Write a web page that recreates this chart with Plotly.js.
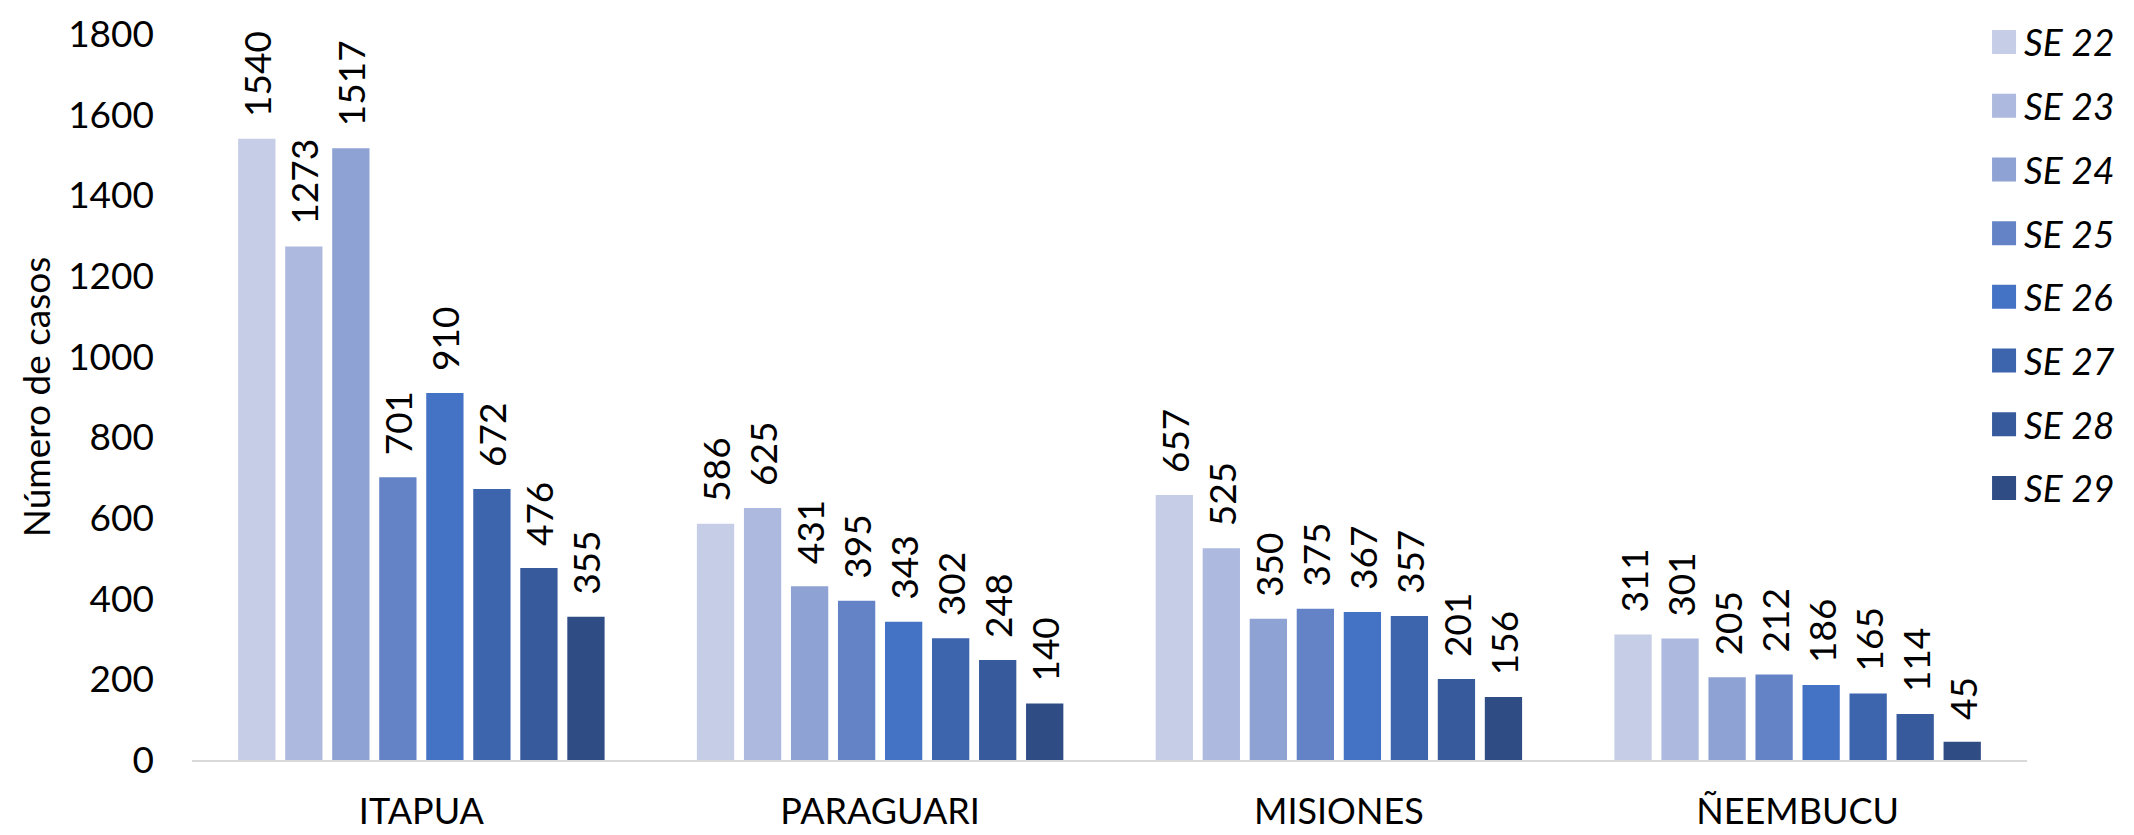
<!DOCTYPE html>
<html>
<head>
<meta charset="utf-8">
<script src="https://cdn.plot.ly/plotly-3.0.1.min.js"></script>
<style>html,body{margin:0;padding:0;background:#fff;}#chart{width:2134px;height:835px;}</style>
</head>
<body>
<div id="chart"></div>
<script>
const categories = ["ITAPUA", "PARAGUARI", "MISIONES", "ÑEEMBUCU"];
const seriesNames = ["SE 22", "SE 23", "SE 24", "SE 25", "SE 26", "SE 27", "SE 28", "SE 29"];
const se22 = [1540, 586, 657, 311];
const se23 = [1273, 625, 525, 301];
const se24 = [1517, 431, 350, 205];
const se25 = [701, 395, 375, 212];
const se26 = [910, 343, 367, 186];
const se27 = [672, 302, 357, 165];
const se28 = [476, 248, 201, 114];
const se29 = [355, 140, 156, 45];
const seriesValues = [se22, se23, se24, se25, se26, se27, se28, se29];
const colors = ["#C5CDE7", "#ADB9DE", "#8FA2D4", "#6483C7", "#4472C4", "#3D65AE", "#365A9C", "#2F4C85"];
const yTicks = [0, 200, 400, 600, 800, 1000, 1200, 1400, 1600, 1800];

const traces = seriesNames.map((name, i) => ({
  type: "bar",
  name: name,
  x: categories,
  y: seriesValues[i],
  text: seriesValues[i].map(v => "\u00a0\u00a0" + v),
  textposition: "outside",
  textangle: -90,
  cliponaxis: false,
  constraintext: "none",
  textfont: {family: "Lato, sans-serif", size: 37, color: "#000"},
  marker: {color: colors[i]},
  legendgroup: name,
  hoverinfo: "x+y+name"
}));

const layout = {
  width: 2134,
  height: 835,
  margin: {l: 192, r: 107, t: 24, b: 75, pad: 0},
  paper_bgcolor: "#fff",
  plot_bgcolor: "#fff",
  barmode: "group",
  bargap: 0.18,
  bargroupgap: 0.207,
  showlegend: true,
  legend: {
    x: 0.9766, xanchor: "left",
    y: 1.031, yanchor: "top",
    traceorder: "grouped",
    tracegroupgap: 12.6,
    maxheight: 820,
    font: {family: "Lato, sans-serif", size: 37, color: "#000", style: "italic"},
    bgcolor: "rgba(0,0,0,0)"
  },
  xaxis: {
    type: "category",
    showgrid: false,
    zeroline: false,
    showline: true,
    linecolor: "#d9d9d9",
    linewidth: 2,
    ticks: "",
    ticklen: 0,
    ticklabelstandoff: 19,
    tickfont: {family: "Lato, sans-serif", size: 36, color: "#000"}
  },
  yaxis: {
    range: [0, 1800],
    tickvals: yTicks,
    ticktext: yTicks.map(String),
    showgrid: false,
    zeroline: false,
    showline: false,
    ticks: "",
    ticklen: 0,
    ticklabelstandoff: 37,
    tickfont: {family: "Lato, sans-serif", size: 37, color: "#000"},
    title: {text: "Número de casos", font: {family: "Lato, sans-serif", size: 37, color: "#000"}, standoff: 6}
  },
  font: {family: "Lato, sans-serif", color: "#000"}
};

Plotly.newPlot("chart", traces, layout, {displayModeBar: false, staticPlot: true}).then(gd => {
  gd.querySelectorAll(".legend .legendpoints path").forEach(p => {
    p.setAttribute("d", "M12,12H-12V-12H12Z");
  });
});
</script>
</body>
</html>
